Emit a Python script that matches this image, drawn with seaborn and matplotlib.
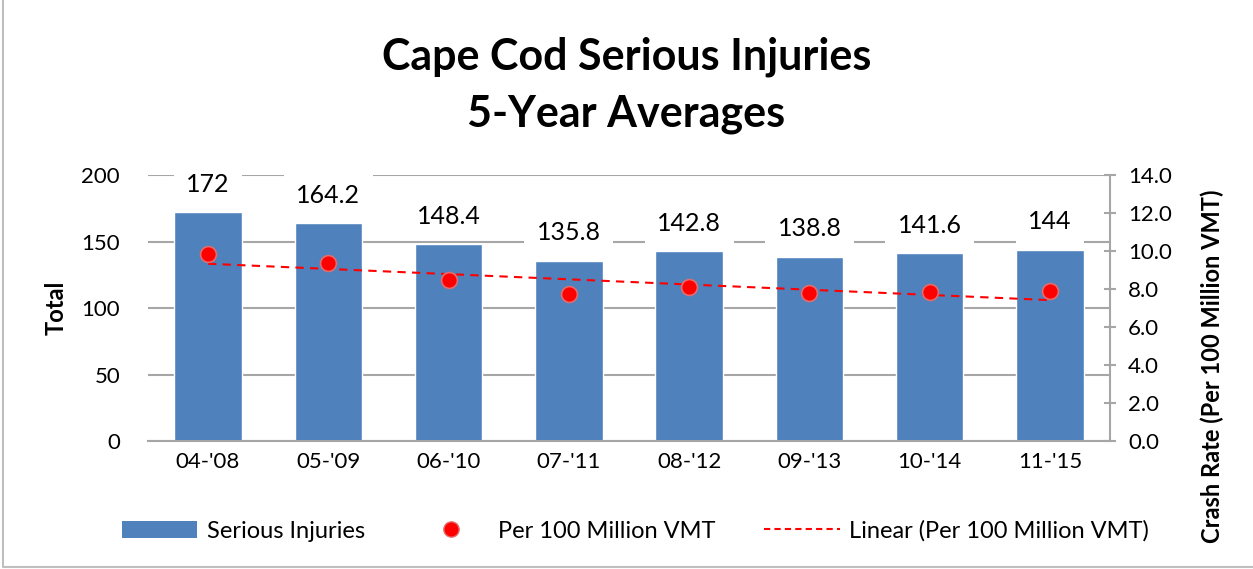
import numpy as np
import pandas as pd
import matplotlib
matplotlib.use("Agg")
import matplotlib.pyplot as plt
import seaborn as sns
from matplotlib.patches import Rectangle
from matplotlib.lines import Line2D

periods = ["04-'08", "05-'09", "06-'10", "07-'11", "08-'12", "09-'13", "10-'14", "11-'15"]
injuries = [172, 164.2, 148.4, 135.8, 142.8, 138.8, 141.6, 144]
injury_labels = ["172", "164.2", "148.4", "135.8", "142.8", "138.8", "141.6", "144"]
rate = [9.84, 9.38, 8.47, 7.74, 8.09, 7.77, 7.86, 7.89]

sns.set_theme(style="white")
plt.rcParams['font.family'] = ['Lato', 'DejaVu Sans']
plt.rcParams['text.color'] = 'black'
plt.rcParams['axes.labelcolor'] = 'black'

df = pd.DataFrame({"period": periods, "injuries": injuries, "rate": rate})

fig = plt.figure(figsize=(12.53, 5.69), dpi=100)
ax = fig.add_axes([0.118, 0.225, 0.768, 0.467])

sns.barplot(data=df, x="period", y="injuries", color="#4F81BD", saturation=1,
            width=0.56, ax=ax, zorder=2)
ax.set_ylim(0, 200)
ax.set_yticks([0, 50, 100, 150, 200])
ax.set_xlim(-0.5, 7.5)
ax.yaxis.grid(True, color="#A6A6A6", linewidth=1.5, zorder=0)
ax.set_axisbelow(True)
for s in ["top", "left", "right"]:
    ax.spines[s].set_visible(False)
ax.spines["bottom"].set_color("#A6A6A6")
ax.spines["bottom"].set_linewidth(1.5)
ax.tick_params(axis="both", labelsize=16, labelcolor="black", length=0, pad=8)
ax.tick_params(axis="y", pad=20)
ax.set_xlabel("")
ax.set_ylabel("Total", fontsize=17, fontweight="bold")
ax.yaxis.set_label_coords(-0.083, 0.5)

for i, (v, lab) in enumerate(zip(injuries, injury_labels)):
    ax.annotate(lab, (i, v), xytext=(0, 20), textcoords="offset points",
                ha="center", va="center", fontsize=18, zorder=5,
                bbox=dict(boxstyle="square,pad=0.5", fc="white", ec="none"))

ax2 = ax.twinx()
xpos = np.arange(len(periods))
sns.scatterplot(x=xpos, y=rate, ax=ax2, color="#FF0000", s=130,
                edgecolor="#E46C6C", linewidth=1.2, zorder=4, legend=False)
coef = np.polyfit(xpos, rate, 1)
ax2.plot(xpos, np.polyval(coef, xpos), linestyle=(0, (4, 3)), color="#FF0000",
         linewidth=1.5, zorder=3)
ax2.set_ylim(0, 14)
ax2.set_yticks(np.arange(0, 15, 2))
ax2.set_yticklabels([f"{v:.1f}" for v in np.arange(0, 15, 2)])
ax2.set_xlim(-0.5, 7.5)
for s in ["top", "left", "bottom"]:
    ax2.spines[s].set_visible(False)
ax2.spines["right"].set_color("#A6A6A6")
ax2.spines["right"].set_linewidth(1.5)
ax2.tick_params(axis="y", labelsize=16, labelcolor="black", length=8, width=1.5,
                direction="inout", pad=9, color="#A6A6A6")
ax2.set_ylabel("Crash Rate (Per 100 Million VMT)", fontsize=17, fontweight="bold")
ax2.yaxis.set_label_coords(1.094, 0.28)
ax2.grid(False)

fig.text(0.5, 0.90, "Cape Cod Serious Injuries", ha="center", va="center",
         fontsize=31, fontweight="bold")
fig.text(0.5, 0.80, "5-Year Averages", ha="center", va="center",
         fontsize=31, fontweight="bold")

handles = [
    Rectangle((0, 0), 1, 1, fc="#4F81BD", ec="none"),
    Line2D([], [], marker="o", color="none", markerfacecolor="#FF0000",
           markeredgecolor="#E46C6C", markersize=11),
    Line2D([], [], color="#FF0000", linestyle=(0, (3, 2)), linewidth=1.5),
]
labels = ["Serious Injuries", "Per 100 Million VMT", "Linear (Per 100 Million VMT)"]
fig.legend(handles, labels, loc="center", bbox_to_anchor=(0.507, 0.067), ncol=3,
           frameon=False, fontsize=17, handlelength=3.2, columnspacing=2.05,
           handletextpad=0.4)

fig.add_artist(Line2D([0.002, 0.002, 1.0], [1.0, 0.003, 0.003], transform=fig.transFigure,
                      color="#BFBFBF", lw=1.5))

fig.savefig("out.png", dpi=100)
